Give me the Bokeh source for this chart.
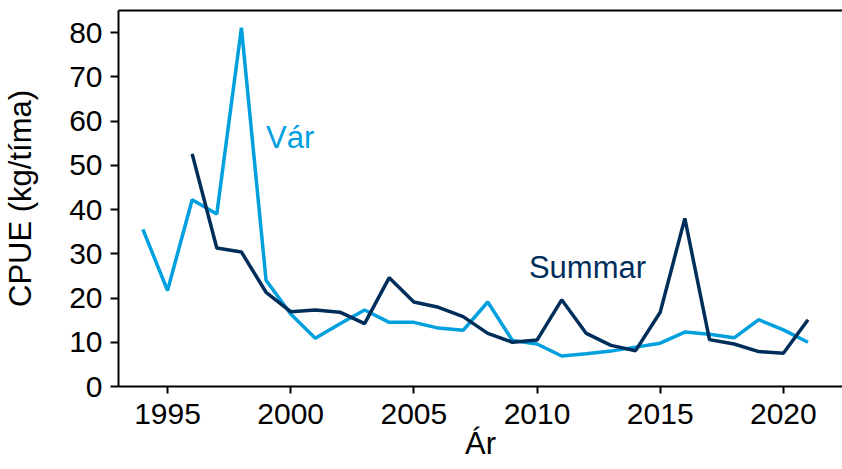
from bokeh.plotting import figure
from bokeh.models import Range1d, FixedTicker, Label, LinearAxis
from bokeh.embed import file_html
from bokeh.resources import INLINE

# Data
years_var = list(range(1994, 2022))
cpue_var = [35.5, 21.7, 42.2, 39.0, 81.1, 24.0, 16.4, 10.9, 14.2, 17.3, 14.5, 14.5,
            13.2, 12.7, 19.1, 10.4, 9.6, 6.9, 7.4, 8.0, 8.9, 9.8, 12.3, 11.8,
            11.0, 15.1, 12.8, 10.0]

years_summar = list(range(1996, 2022))
cpue_summar = [52.6, 31.3, 30.4, 21.3, 16.9, 17.3, 16.8, 14.2, 24.6, 19.1, 17.9, 15.8,
               12.0, 10.0, 10.5, 19.6, 12.0, 9.3, 8.1, 16.8, 38.0, 10.6, 9.6, 7.9,
               7.5, 15.1]

x_ticks = [1995, 2000, 2005, 2010, 2015, 2020]
y_ticks = [0, 10, 20, 30, 40, 50, 60, 70, 80]

series_names = ["Vár", "Summar"]
x_title = "Ár"
y_title = "CPUE (kg/tíma)"
c_var = "#00A0DF"
c_sum = "#002E5B"
FONT = "Liberation Sans"

p = figure(width=842, height=469, output_backend="svg", toolbar_location=None,
           x_range=Range1d(1993.01, 2022.40), y_range=Range1d(0, 85),
           min_border_left=117, min_border_right=0, min_border_top=10, min_border_bottom=83)
p.outline_line_color = None
p.xgrid.visible = False
p.ygrid.visible = False

xax = p.below[0]
yax = p.left[0]

p.line(years_var, cpue_var, line_color=c_var, line_width=3.5)
p.line(years_summar, cpue_summar, line_color=c_sum, line_width=3.5)

p.add_layout(Label(x=1999.0, y=56.3, text=series_names[0], text_color=c_var,
                   text_font=FONT, text_font_size="31px", text_baseline="alphabetic"))
p.add_layout(Label(x=2009.67, y=26.9, text=series_names[1], text_color=c_sum,
                   text_font=FONT, text_font_size="31px", text_baseline="alphabetic"))

for ax in (xax, yax):
    ax.axis_line_width = 2
    ax.major_tick_line_width = 2
    ax.major_tick_in = 0
    ax.minor_tick_line_color = None
    ax.major_label_text_font = FONT
    ax.major_label_text_font_size = "30px"
    ax.major_label_text_color = "black"
    ax.axis_label_text_font = FONT
    ax.axis_label_text_font_size = "31px"
    ax.axis_label_text_font_style = "normal"
    ax.axis_label_text_color = "black"

xax.ticker = FixedTicker(ticks=x_ticks)
yax.ticker = FixedTicker(ticks=y_ticks)
xax.major_tick_out = 7
yax.major_tick_out = 8
xax.major_label_standoff = 10
yax.major_label_standoff = 8
xax.axis_label = x_title
yax.axis_label = y_title
xax.axis_label_standoff = -1
yax.axis_label_standoff = 28

# top frame line (no right border visible in the reference)
top_axis = LinearAxis(ticker=FixedTicker(ticks=[]), axis_line_width=2,
                      major_tick_out=0, major_tick_in=0, minor_tick_line_color=None,
                      major_label_standoff=0, major_label_text_font_size="0px")
p.add_layout(top_axis, "above")

open("out.html", "w").write(file_html(p, INLINE))
